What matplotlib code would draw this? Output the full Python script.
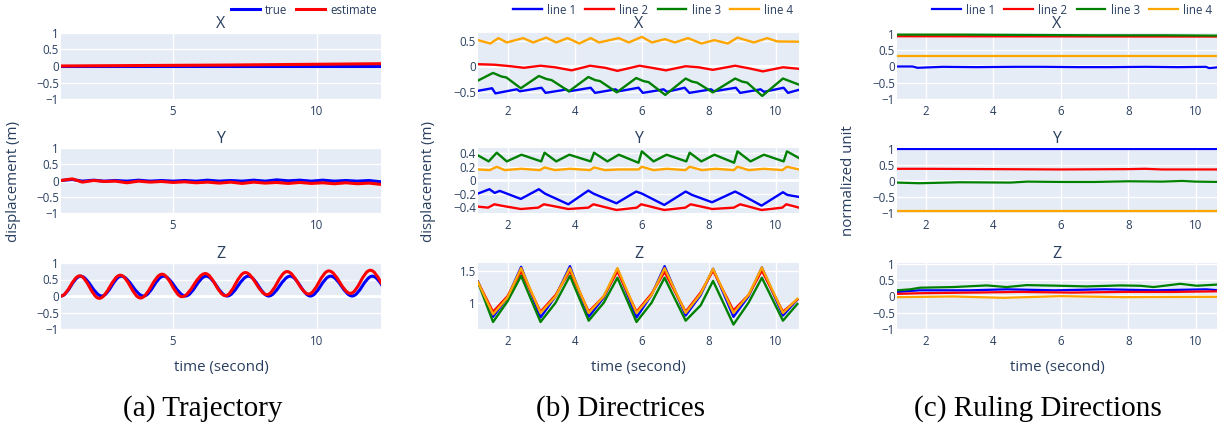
import matplotlib
matplotlib.use('Agg')
import matplotlib.pyplot as plt
from matplotlib.path import Path
from matplotlib.patches import PathPatch

plt.rcParams['font.family'] = ['Open Sans', 'DejaVu Sans']

# ---------------- (a) Trajectory ----------------
a_x_true_t = [1.11, 4.0, 8.0, 12.22]
a_x_true_v = [0.0, 0.0, 0.0, 0.0]
a_x_est_t = [1.11, 3.0, 5.0, 7.0, 9.0, 11.0, 12.22]
a_x_est_v = [0.0, 0.01, 0.02, 0.03, 0.045, 0.06, 0.07]

a_y_t = [1.11, 1.5, 1.85, 2.25, 2.6, 3.0, 3.4, 3.8, 4.2, 4.6, 5.0, 5.4, 5.8, 6.2, 6.6,
         7.0, 7.4, 7.8, 8.2, 8.6, 9.0, 9.4, 9.8, 10.2, 10.6, 11.0, 11.4, 11.8, 12.22]
a_y_true_v = [0.0, 0.03, -0.02, 0.01, -0.02, 0.0, -0.02, 0.01, -0.02, 0.0, -0.02, 0.0, -0.02, 0.01, -0.02,
              0.0, -0.02, 0.01, -0.02, 0.02, -0.01, 0.01, -0.02, 0.01, -0.02, 0.0, -0.02, 0.0, -0.04]
a_y_est_v = [0.0, 0.05, -0.05, 0.0, -0.03, -0.02, -0.07, -0.02, -0.05, -0.03, -0.06, -0.04, -0.07, -0.05, -0.08,
             -0.05, -0.09, -0.05, -0.08, -0.06, -0.09, -0.06, -0.09, -0.07, -0.1, -0.07, -0.1, -0.08, -0.12]

# peaks / troughs of the Z oscillation
a_z_true_t = [1.11, 1.79, 2.53, 3.20, 3.98, 4.67, 5.43, 6.15, 6.88, 7.62, 8.32, 9.07, 9.77, 10.47, 11.22, 11.92, 12.62]
a_z_true_v = [0.0, 0.6, 0.0, 0.6, 0.0, 0.6, 0.0, 0.6, 0.0, 0.6, 0.0, 0.6, 0.0, 0.6, 0.0, 0.6, 0.0]
a_z_est_t = [1.11, 1.76, 2.44, 3.17, 3.87, 4.62, 5.31, 6.12, 6.82, 7.51, 8.26, 8.96, 9.71, 10.41, 11.16, 11.85, 12.55]
a_z_est_v = [0.0, 0.61, -0.07, 0.63, -0.06, 0.66, -0.02, 0.68, 0.01, 0.71, 0.04, 0.74, 0.06, 0.76, 0.08, 0.78, 0.1]

# ---------------- (b) Directrices ----------------
b_x1_t = [1.10, 1.52, 1.62, 2.1, 2.26, 2.35, 3.0, 3.12, 3.6, 3.73, 3.82, 4.47, 4.6, 5.05, 5.21, 5.3, 5.9,
          6.03, 6.5, 6.65, 6.75, 7.28, 7.42, 7.9, 8.07, 8.15, 8.81, 8.94, 9.4, 9.55, 9.65, 10.24, 10.37, 10.7]
b_x1_v = [-0.48, -0.43, -0.53, -0.47, -0.45, -0.49, -0.42, -0.52, -0.47, -0.45, -0.49, -0.42, -0.52, -0.47, -0.45, -0.49, -0.42,
          -0.52, -0.47, -0.45, -0.5, -0.42, -0.52, -0.47, -0.45, -0.49, -0.42, -0.52, -0.47, -0.45, -0.5, -0.42, -0.52, -0.46]
b_x2_t = [1.1, 1.59, 2.08, 2.47, 2.97, 3.4, 3.9, 4.45, 4.9, 5.27, 5.93, 6.3, 6.72, 7.31, 7.7, 8.12, 8.79, 9.2, 9.62, 10.22, 10.7]
b_x2_v = [0.04, 0.03, 0.0, -0.03, 0.01, -0.02, -0.08, 0.01, -0.03, -0.09, 0.01, -0.03, -0.08, 0.0, -0.02, -0.07, 0.01, -0.04, -0.1, -0.02, -0.05]
b_x3_t = [1.1, 1.55, 1.8, 1.95, 2.38, 2.92, 3.15, 3.3, 3.82, 4.4, 4.6, 4.75, 5.25, 5.83, 6.05, 6.2, 6.7,
          7.31, 7.5, 7.65, 8.12, 8.79, 9.0, 9.15, 9.6, 10.22, 10.7]
b_x3_v = [-0.28, -0.13, -0.2, -0.22, -0.43, -0.19, -0.25, -0.27, -0.49, -0.21, -0.27, -0.29, -0.51, -0.23, -0.29, -0.31, -0.56,
          -0.24, -0.30, -0.32, -0.51, -0.24, -0.30, -0.32, -0.58, -0.24, -0.36]
b_x4_t = [1.1, 1.47, 1.71, 1.96, 2.45, 2.75, 3.14, 3.44, 3.78, 4.13, 4.47, 4.72, 5.31, 5.61, 6.0, 6.30, 6.69,
          6.99, 7.38, 7.78, 8.17, 8.57, 8.86, 9.35, 9.75, 10.05, 10.7]
b_x4_v = [0.51, 0.445, 0.55, 0.465, 0.55, 0.465, 0.56, 0.465, 0.55, 0.445, 0.55, 0.465, 0.55, 0.465, 0.575, 0.465, 0.53,
          0.465, 0.55, 0.445, 0.51, 0.445, 0.56, 0.465, 0.55, 0.485, 0.48]

b_y1_t = [1.1, 1.44, 1.6, 1.75, 2.38, 2.92, 3.1, 3.8, 4.4, 4.55, 5.24, 5.83, 6.0, 6.67, 7.31, 7.5,
          8.1, 8.79, 8.95, 9.58, 10.22, 10.35, 10.7]
b_y1_v = [-0.2, -0.135, -0.19, -0.16, -0.28, -0.135, -0.2, -0.36, -0.155, -0.2, -0.345, -0.17, -0.2, -0.37, -0.17, -0.22,
          -0.33, -0.17, -0.21, -0.38, -0.18, -0.22, -0.25]
b_y2_t = [1.1, 1.4, 1.59, 1.9, 2.38, 2.9, 3.07, 3.8, 4.4, 4.55, 5.24, 5.85, 5.98, 6.67, 7.3, 7.46,
          8.1, 8.75, 8.94, 9.58, 10.2, 10.32, 10.7]
b_y2_v = [-0.395, -0.41, -0.36, -0.39, -0.43, -0.41, -0.36, -0.43, -0.41, -0.36, -0.445, -0.41, -0.36, -0.445, -0.41, -0.36,
          -0.43, -0.41, -0.36, -0.445, -0.41, -0.36, -0.41]
b_y3_t = [1.1, 1.42, 1.66, 1.96, 2.40, 2.99, 3.09, 3.44, 3.83, 4.47, 4.57, 4.97, 5.31, 5.90, 6.0, 6.35, 6.74,
          7.33, 7.43, 7.78, 8.17, 8.76, 8.86, 9.25, 9.65, 10.24, 10.34, 10.7]
b_y3_v = [0.37, 0.28, 0.41, 0.28, 0.38, 0.28, 0.41, 0.28, 0.38, 0.28, 0.41, 0.28, 0.38, 0.26, 0.43, 0.28, 0.38,
          0.28, 0.41, 0.28, 0.38, 0.26, 0.43, 0.28, 0.38, 0.28, 0.43, 0.33]
b_y4_t = [1.1, 1.45, 1.66, 1.9, 2.4, 2.95, 3.09, 3.4, 3.85, 4.45, 4.57, 4.9, 5.3, 5.9, 6.0, 6.35, 6.75,
          7.3, 7.43, 7.8, 8.2, 8.75, 8.86, 9.2, 9.65, 10.2, 10.34, 10.7]
b_y4_v = [0.16, 0.15, 0.2, 0.15, 0.17, 0.15, 0.19, 0.15, 0.17, 0.15, 0.19, 0.15, 0.16, 0.16, 0.2, 0.15, 0.17,
          0.15, 0.2, 0.15, 0.17, 0.15, 0.2, 0.15, 0.17, 0.15, 0.2, 0.16]

b_z_t = [1.1, 1.55, 1.98, 2.39, 2.97, 3.42, 3.85, 4.41, 4.86, 5.27, 5.84, 6.29, 6.68, 7.31, 7.76, 8.13, 8.74, 9.19, 9.59, 10.22, 10.65]
b_z1_v = [1.33, 0.78, 1.08, 1.56, 0.77, 1.1, 1.57, 0.78, 1.08, 1.53, 0.77, 1.12, 1.57, 0.8, 1.12, 1.53, 0.78, 1.1, 1.55, 0.8, 1.05]
b_z2_v = [1.32, 0.86, 1.1, 1.49, 0.86, 1.12, 1.5, 0.86, 1.1, 1.49, 0.86, 1.14, 1.48, 0.86, 1.16, 1.5, 0.88, 1.12, 1.5, 0.86, 1.05]
b_z3_v = [1.32, 0.7, 1.02, 1.42, 0.7, 1.0, 1.42, 0.72, 1.0, 1.39, 0.7, 1.0, 1.39, 0.72, 0.96, 1.34, 0.66, 1.0, 1.39, 0.72, 0.98]
b_z4_v = [1.32, 0.82, 1.08, 1.54, 0.84, 1.1, 1.54, 0.84, 1.1, 1.54, 0.84, 1.12, 1.54, 0.84, 1.14, 1.53, 0.84, 1.12, 1.55, 0.84, 1.06]

# ---------------- (c) Ruling Directions ----------------
c_x1_t = [1.14, 1.6, 1.75, 2.5, 3.5, 4.6, 5.5, 6.5, 7.4, 8.5, 9.5, 10.3, 10.4, 10.7]
c_x1_v = [0.0, 0.0, -0.04, -0.01, -0.02, -0.01, -0.01, -0.02, -0.02, -0.01, -0.02, -0.01, -0.05, -0.02]
c_x2_t = [1.14, 10.7]
c_x2_v = [0.93, 0.92]
c_x3_t = [1.14, 3.0, 5.0, 7.0, 9.0, 10.7]
c_x3_v = [0.98, 0.98, 0.97, 0.96, 0.96, 0.95]
c_x4_t = [1.14, 10.7]
c_x4_v = [0.33, 0.33]

c_y1_t = [1.14, 10.7]
c_y1_v = [0.99, 0.99]
c_y2_t = [1.14, 2.0, 4.0, 6.0, 8.0, 8.5, 9.0, 10.7]
c_y2_v = [0.38, 0.38, 0.37, 0.36, 0.37, 0.38, 0.36, 0.36]
c_y3_t = [1.14, 1.8, 3.0, 4.5, 5.0, 6.0, 7.0, 8.0, 9.0, 9.6, 10.0, 10.7]
c_y3_v = [-0.05, -0.07, -0.04, -0.05, -0.02, -0.03, -0.03, -0.01, -0.02, 0.0, -0.02, -0.03]
c_y4_t = [1.14, 10.7]
c_y4_v = [-0.94, -0.94]

c_z1_t = [1.14, 1.8, 3.3, 4.4, 5.8, 7.3, 8.8, 10.3, 10.7]
c_z1_v = [0.14, 0.19, 0.19, 0.22, 0.19, 0.22, 0.19, 0.22, 0.19]
c_z2_t = [1.14, 1.8, 3.3, 4.8, 6.3, 7.8, 9.3, 10.7]
c_z2_v = [0.08, 0.10, 0.12, 0.14, 0.12, 0.14, 0.14, 0.16]
c_z3_t = [1.14, 1.53, 1.82, 2.81, 3.8, 4.39, 4.99, 5.98, 6.77, 7.76, 8.35, 8.75, 9.54, 10.03, 10.7]
c_z3_v = [0.19, 0.22, 0.27, 0.29, 0.34, 0.29, 0.35, 0.33, 0.31, 0.34, 0.33, 0.29, 0.39, 0.33, 0.37]
c_z4_t = [1.14, 2.8, 4.3, 6.0, 7.8, 10.7]
c_z4_v = [-0.02, 0.0, -0.04, 0.01, -0.02, -0.01]

line_names = ['line 1', 'line 2', 'line 3', 'line 4']
line_colors = ['blue', 'red', 'green', 'orange']

FONT_C = '#2a3f5f'
W, H = 1225, 429


def make_ax(fig, x0, x1, y0, y1):
    return fig.add_axes([x0 / W, 1 - y1 / H, (x1 - x0) / W, (y1 - y0) / H])


def style(ax, title, xlim, xticks, ylim, yticks):
    ax.set_facecolor('#E5ECF6')
    for s in ax.spines.values():
        s.set_visible(False)
    ax.set_xlim(xlim)
    ax.set_ylim(ylim)
    ax.set_xticks(xticks)
    ax.set_xticklabels([('%g' % t) for t in xticks])
    ax.set_yticks(yticks)
    ax.set_yticklabels([('%g' % t).replace('-', '\u2212') for t in yticks])
    ax.grid(color='white', lw=1)
    ax.set_axisbelow(True)
    ax.tick_params(length=0, labelsize=8.3, colors=FONT_C)
    ax.tick_params(axis='y', pad=1.5)
    ax.tick_params(axis='x', pad=4)
    if ylim[0] < 0 < ylim[1]:
        ax.axhline(0, color='white', lw=2, zorder=1)
    ax.set_title(title, fontsize=11.5, color=FONT_C, pad=3.5)


def smooth_path(ts, vs):
    # curve through peaks/troughs with flat tangents at each extremum
    verts = [(ts[0], vs[0])]
    codes = [Path.MOVETO]
    for i in range(1, len(ts)):
        d = (ts[i] - ts[i - 1]) * 0.36
        verts += [(ts[i - 1] + d, vs[i - 1]), (ts[i] - d, vs[i]), (ts[i], vs[i])]
        codes += [Path.CURVE4] * 3
    return Path(verts, codes)


fig = plt.figure(figsize=(12.25, 4.29), dpi=100)

rows = [(33, 99), (148, 213), (263, 329)]
cols = [(61, 381), (478, 799), (897, 1217)]
leg_kw = dict(frameon=False, fontsize=8.3, labelcolor=FONT_C, handlelength=2.5,
              handletextpad=0.45, columnspacing=0.8, borderpad=0, borderaxespad=0)

# ---- (a)
xa = (1.11, 12.22)
ya = [-1, -0.5, 0, 0.5, 1]
ax = make_ax(fig, *cols[0], *rows[0])
style(ax, 'X', xa, [5, 10], (-1, 1), ya)
h1, = ax.plot(a_x_true_t, a_x_true_v, color='blue', lw=2.2, label='true')
h2, = ax.plot(a_x_est_t, a_x_est_v, color='red', lw=2.2, label='estimate')
fig.legend([h1, h2], ['true', 'estimate'], loc='center right', bbox_to_anchor=(377 / W, 1 - 10 / H),
           ncol=2, **leg_kw)

ax = make_ax(fig, *cols[0], *rows[1])
style(ax, 'Y', xa, [5, 10], (-1, 1), ya)
ax.plot(a_y_t, a_y_true_v, color='blue', lw=2.2)
ax.plot(a_y_t, a_y_est_v, color='red', lw=2.2)

ax = make_ax(fig, *cols[0], *rows[2])
style(ax, 'Z', xa, [5, 10], (-1, 1), ya)
ax.add_patch(PathPatch(smooth_path(a_z_true_t, a_z_true_v), fill=False, ec='blue', lw=2.2, zorder=2))
ax.add_patch(PathPatch(smooth_path(a_z_est_t, a_z_est_v), fill=False, ec='red', lw=2.2, zorder=2.1))

# ---- (b)
xb = (1.1, 10.7)
xtb = [2, 4, 6, 8, 10]
ax = make_ax(fig, *cols[1], *rows[0])
style(ax, 'X', xb, xtb, (-0.64, 0.65), [-0.5, 0, 0.5])
hb = []
for t, v, c, n in zip([b_x1_t, b_x2_t, b_x3_t, b_x4_t], [b_x1_v, b_x2_v, b_x3_v, b_x4_v], line_colors, line_names):
    h, = ax.plot(t, v, color=c, lw=1.7, label=n)
    hb.append(h)
fig.legend(hb, line_names, loc='center right', bbox_to_anchor=(793 / W, 1 - 10 / H), ncol=4, **leg_kw)

ax = make_ax(fig, *cols[1], *rows[1])
style(ax, 'Y', xb, xtb, (-0.49, 0.48), [-0.4, -0.2, 0, 0.2, 0.4])
for t, v, c in zip([b_y1_t, b_y2_t, b_y3_t, b_y4_t], [b_y1_v, b_y2_v, b_y3_v, b_y4_v], line_colors):
    ax.plot(t, v, color=c, lw=1.7)

ax = make_ax(fig, *cols[1], *rows[2])
style(ax, 'Z', xb, xtb, (0.59, 1.62), [1, 1.5])
for v, c in zip([b_z1_v, b_z2_v, b_z3_v, b_z4_v], line_colors):
    ax.plot(b_z_t, v, color=c, lw=1.7)

# ---- (c)
xc = (1.14, 10.63)
yc = [-1, -0.5, 0, 0.5, 1]
ax = make_ax(fig, *cols[2], *rows[0])
style(ax, 'X', xc, xtb, (-1.0, 1.03), yc)
hc = []
for t, v, c, n in zip([c_x1_t, c_x2_t, c_x3_t, c_x4_t], [c_x1_v, c_x2_v, c_x3_v, c_x4_v], line_colors, line_names):
    h, = ax.plot(t, v, color=c, lw=1.6, label=n)
    hc.append(h)
fig.legend(hc, line_names, loc='center right', bbox_to_anchor=(1212 / W, 1 - 10 / H), ncol=4, **leg_kw)

ax = make_ax(fig, *cols[2], *rows[1])
style(ax, 'Y', xc, xtb, (-1.0, 1.03), yc)
for t, v, c in zip([c_y1_t, c_y2_t, c_y3_t, c_y4_t], [c_y1_v, c_y2_v, c_y3_v, c_y4_v], line_colors):
    ax.plot(t, v, color=c, lw=1.6)

ax = make_ax(fig, *cols[2], *rows[2])
style(ax, 'Z', xc, xtb, (-1.0, 1.03), yc)
for t, v, c in zip([c_z1_t, c_z2_t, c_z3_t, c_z4_t], [c_z1_v, c_z2_v, c_z3_v, c_z4_v], line_colors):
    ax.plot(t, v, color=c, lw=1.6)

# axis titles and captions
for cx, ylab, yx in [(221, 'displacement (m)', 14), (638, 'displacement (m)', 428), (1057, 'normalized unit', 848)]:
    fig.text(cx / W, 1 - 368 / H, 'time (second)', ha='center', va='center', fontsize=10.8, color=FONT_C)
    fig.text(yx / W, 1 - 181 / H, ylab, ha='center', va='center', rotation=90, fontsize=10.8, color=FONT_C)

for cx, cap in [(203, '(a) Trajectory'), (621, '(b) Directrices'), (1038, '(c) Ruling Directions')]:
    fig.text(cx / W, 1 - 409 / H, cap, ha='center', va='center', fontsize=21,
             family=['Liberation Serif', 'DejaVu Serif'], color='black')

fig.savefig('out.png', dpi=100, facecolor='white')
